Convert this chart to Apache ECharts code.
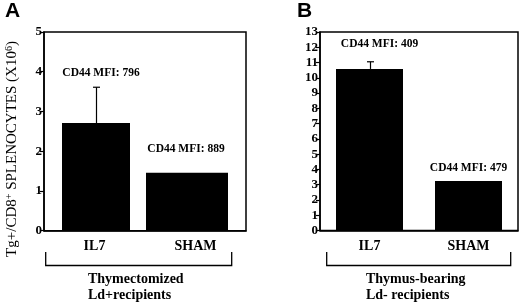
<!DOCTYPE html>
<html>
<head>
<meta charset="utf-8" />
<script src="https://cdn.jsdelivr.net/npm/echarts@6.0.0/dist/echarts.min.js"></script>
<style>
  html, body { margin: 0; padding: 0; background: #fff; }
  #chart { width: 520px; height: 303px; }
</style>
</head>
<body>
<div id="chart"></div>
<script>
// data
const categories = ['IL7', 'SHAM'];
const cellsA = [2.71, 1.46]; // Tg+/CD8+ splenocytes x10^6, thymectomized Ld+
const errTopA = [3.61, null];
const cellsB = [10.58, 3.24]; // thymus-bearing Ld-
const errTopB = [11.05, null];
const mfiA = [796, 889];
const mfiB = [409, 479];
const yMaxA = 5;
const yMaxB = 13;

// where the "CD44 MFI" notes sit: [y value, x pixel shift]
const notePosA = [[3.96, 6.5], [2.05, -9.5]];
const notePosB = [[12.2, 10], [4.09, 0]];

const serif = 'Liberation Serif';
const black = '#000';

function errorBarItem(xShift) {
  return function (params, api) {
    const x = api.value(0);
    const base = api.coord([x, api.value(1)]);
    const top = api.coord([x, api.value(2)]);
    const cx = Math.round(base[0] + xShift) + 0.5;
    const st = { stroke: black, lineWidth: 1.2 };
    return {
      type: 'group',
      children: [
        { type: 'line', shape: { x1: cx, y1: base[1], x2: cx, y2: top[1] }, style: st },
        { type: 'line', shape: { x1: cx - 3.5, y1: top[1], x2: cx + 3.5, y2: top[1] }, style: st },
      ],
    };
  };
}

function noteSeries(idx, mfi, pos) {
  return {
    type: 'scatter',
    xAxisIndex: idx,
    yAxisIndex: idx,
    symbolSize: 0,
    silent: true,
    itemStyle: { opacity: 1 },
    data: mfi.map((v, i) => ({
      value: [i, pos[i][0]],
      label: { offset: [pos[i][1], 0] },
    })),
    label: {
      show: true,
      position: 'inside',
      formatter: (p) => 'CD44 MFI: ' + mfi[p.dataIndex],
      fontFamily: serif,
      fontWeight: 'bold',
      fontSize: 11.5,
      color: black,
      opacity: 1,
      textBorderWidth: 0,
    },
  };
}

function yAxis(idx, max) {
  return {
    type: 'value',
    gridIndex: idx,
    min: 0,
    max: max,
    interval: 1,
    axisLine: { show: true, lineStyle: { color: black, width: 1.5 } },
    axisTick: { show: true, length: 4, lineStyle: { color: black, width: 1.2 } },
    axisLabel: { margin: 2, fontFamily: serif, fontWeight: 'bold', fontSize: 13, color: black },
    splitLine: { show: false },
  };
}

function xAxis(idx) {
  return {
    type: 'category',
    gridIndex: idx,
    data: categories,
    axisLine: { show: true, lineStyle: { color: black, width: 1.5 } },
    axisTick: { show: false },
    axisLabel: { margin: 9, fontFamily: serif, fontWeight: 'bold', fontSize: 14, color: black },
  };
}

function groupText(left, top, text) {
  return {
    type: 'text',
    left: left,
    top: top,
    style: { text: text, fontFamily: serif, fontWeight: 'bold', fontSize: 14, lineHeight: 16, fill: black },
  };
}

function bracket(x1, x2) {
  return {
    type: 'polyline',
    shape: { points: [[x1, 252], [x1, 265.5], [x2, 265.5], [x2, 252]] },
    style: { stroke: black, lineWidth: 1.3, fill: null },
  };
}

const myChart = echarts.init(document.getElementById('chart'));

const option = {
  backgroundColor: '#fff',
  animation: false,
  grid: [
    { left: 44, top: 32, width: 202, height: 198.7, show: true, borderColor: black, borderWidth: 1.5, backgroundColor: 'transparent' },
    { left: 320, top: 32, width: 198, height: 198.5, show: true, borderColor: black, borderWidth: 1.5, backgroundColor: 'transparent' },
  ],
  xAxis: [xAxis(0), xAxis(1)],
  yAxis: [yAxis(0, yMaxA), yAxis(1, yMaxB)],
  series: [
    // panel A bars are not the same width in the figure, so two series with a negative gap
    {
      type: 'bar',
      xAxisIndex: 0,
      yAxisIndex: 0,
      data: [cellsA[0], '-'],
      barWidth: 68,
      barGap: '-125%',
      itemStyle: { color: black },
    },
    {
      type: 'bar',
      xAxisIndex: 0,
      yAxisIndex: 0,
      data: ['-', cellsA[1]],
      barWidth: 82,
      barGap: '-125%',
      itemStyle: { color: black },
    },
    {
      type: 'custom',
      xAxisIndex: 0,
      yAxisIndex: 0,
      renderItem: errorBarItem(1),
      data: errTopA.map((e, i) => (e == null ? null : [i, cellsA[i], e])).filter((d) => d),
      z: 3,
    },
    {
      type: 'bar',
      xAxisIndex: 1,
      yAxisIndex: 1,
      data: cellsB,
      barWidth: 67,
      itemStyle: { color: black },
    },
    {
      type: 'custom',
      xAxisIndex: 1,
      yAxisIndex: 1,
      renderItem: errorBarItem(0),
      data: errTopB.map((e, i) => (e == null ? null : [i, cellsB[i], e])).filter((d) => d),
      z: 3,
    },
    noteSeries(0, mfiA, notePosA),
    noteSeries(1, mfiB, notePosB),
  ],
  graphic: [
    { type: 'text', left: 5, top: 1, style: { text: 'A', fontFamily: 'Liberation Sans', fontWeight: 'bold', fontSize: 21, fill: black } },
    { type: 'text', left: 297, top: 1, style: { text: 'B', fontFamily: 'Liberation Sans', fontWeight: 'bold', fontSize: 21, fill: black } },
    {
      type: 'text',
      x: 12,
      y: 149,
      rotation: Math.PI / 2,
      style: {
        text: 'Tg+/CD8{sup|+} SPLENOCYTES (X10{sup|6})',
        fontFamily: serif,
        fontSize: 15,
        fill: black,
        align: 'center',
        verticalAlign: 'middle',
        rich: {
          sup: { fontFamily: serif, fontSize: 10, verticalAlign: 'top', padding: [0, 0, 6, 0], fill: black },
        },
      },
    },
    bracket(45.7, 231.7),
    bracket(326.7, 510.7),
    groupText(88, 271, 'Thymectomized\nLd+recipients'),
    groupText(366, 271, 'Thymus-bearing\nLd- recipients'),
  ],
};

myChart.setOption(option);
</script>
</body>
</html>
